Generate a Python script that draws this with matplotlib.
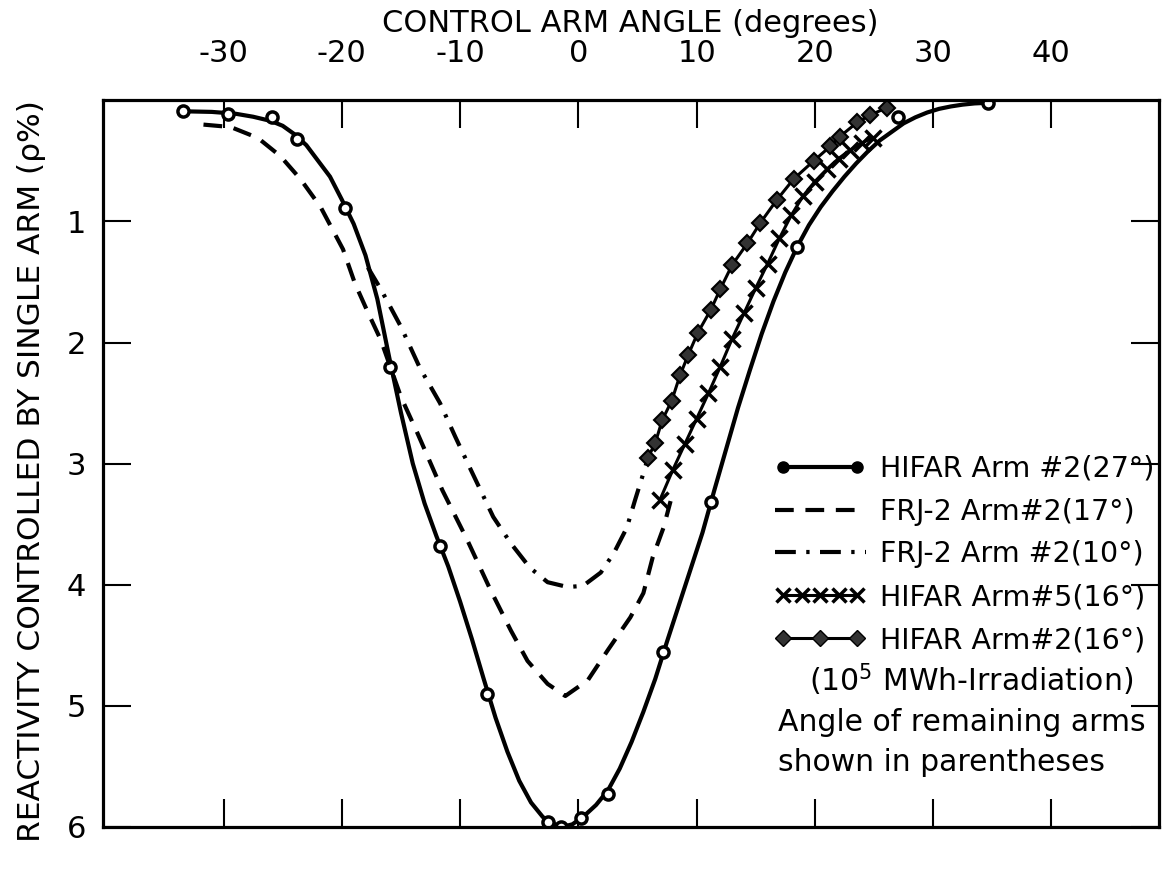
import matplotlib
matplotlib.use("Agg")
import matplotlib.pyplot as plt
from matplotlib.lines import Line2D
from matplotlib.legend_handler import HandlerLine2D

plt.rcParams['font.family'] = ['DejaVu Sans']

# HIFAR Arm #2 (27 deg) - solid curve and measured points
hifar27_x = [-33.4, -31.0, -29.0, -27.5, -26.0, -25.0, -24.0, -23.0, -22.0, -21.0, -20.0,
             -19.0, -18.0, -17.0, -16.0, -15.0, -14.0, -13.0, -12.0, -11.0, -10.0, -9.0,
             -8.0, -7.0, -6.0, -5.0, -4.0, -3.0, -2.0, -1.3, -0.5, 0.5, 1.5, 2.5, 3.5,
             4.5, 5.5, 6.5, 7.5, 8.5, 9.5, 10.5, 11.5, 12.5, 13.5, 14.5, 15.5, 16.5,
             17.5, 18.5, 19.5, 20.5, 21.5, 22.5, 23.5, 24.5, 25.5, 26.5, 27.5, 28.5,
             29.5, 30.5, 31.5, 32.5, 33.5, 34.6]
hifar27_y = [0.09, 0.095, 0.11, 0.135, 0.17, 0.21, 0.28, 0.37, 0.50, 0.63, 0.82,
             1.02, 1.28, 1.64, 2.12, 2.58, 3.0, 3.33, 3.60, 3.85, 4.14, 4.45,
             4.78, 5.10, 5.38, 5.62, 5.80, 5.92, 5.98, 6.0, 5.98, 5.91, 5.82, 5.70, 5.52,
             5.30, 5.05, 4.78, 4.47, 4.17, 3.87, 3.57, 3.22, 2.88, 2.54, 2.23, 1.93, 1.66,
             1.42, 1.21, 1.03, 0.88, 0.75, 0.63, 0.52, 0.42, 0.33, 0.26, 0.19, 0.14,
             0.10, 0.07, 0.05, 0.035, 0.025, 0.02]
hifar27_pts_x = [-33.4, -29.6, -25.9, -23.8, -19.7, -15.9, -11.7, -7.7, -2.6, -1.5, 0.2, 2.5,
                 7.2, 11.2, 18.5, 27.0, 34.6]
hifar27_pts_y = [0.09, 0.11, 0.14, 0.32, 0.89, 2.20, 3.68, 4.90, 5.96, 6.0, 5.93, 5.73,
                 4.56, 3.32, 1.21, 0.14, 0.02]

# FRJ-2 Arm #2 (17 deg) - dashed
frj17_x = [-31.7, -29.4, -27.1, -25.2, -23.5, -21.8, -19.9, -18.9, -17.8, -16.7, -15.0, -13.6,
           -11.5, -9.4, -7.4, -5.7, -4.3, -2.6, -1.1, 0.8, 2.5, 4.4, 5.5, 6.3, 7.2, 7.8]
frj17_y = [0.20, 0.22, 0.31, 0.46, 0.65, 0.88, 1.23, 1.51, 1.75, 1.98, 2.45, 2.75,
           3.22, 3.63, 4.05, 4.38, 4.63, 4.82, 4.92, 4.79, 4.54, 4.27, 4.07, 3.77, 3.53, 3.31]

# FRJ-2 Arm #2 (10 deg) - dash-dot
frj10_x = [-17.8, -16.7, -15.0, -13.4, -11.7, -10.4, -9.1, -7.2, -5.7, -4.1, -2.6, -0.9,
           0.4, 1.9, 3.0, 4.1, 4.8, 5.5, 5.9]
frj10_y = [1.38, 1.56, 1.87, 2.21, 2.50, 2.78, 3.05, 3.44, 3.66, 3.86, 3.98, 4.02,
           4.01, 3.90, 3.74, 3.53, 3.30, 3.08, 2.95]

# HIFAR Arm #5 (16 deg) - crosses
hifar5_x = [6.9, 8.0, 9.0, 10.0, 11.0, 12.0, 13.0, 14.0, 15.0, 16.0, 17.0, 18.0, 19.0,
            20.0, 21.0, 22.0, 23.0, 24.0, 24.9]
hifar5_y = [3.30, 3.05, 2.84, 2.63, 2.42, 2.20, 1.97, 1.76, 1.55, 1.35, 1.14, 0.95, 0.79,
            0.67, 0.57, 0.48, 0.41, 0.35, 0.31]

# HIFAR Arm #2 (16 deg), 10^5 MWh irradiation - diamonds
hifar16_x = [5.9, 6.5, 7.1, 7.9, 8.6, 9.3, 10.1, 11.2, 12.0, 13.0, 14.3, 15.4, 16.8, 18.2,
             19.9, 21.3, 22.1, 23.6, 24.7, 26.1]
hifar16_y = [2.95, 2.83, 2.64, 2.48, 2.27, 2.10, 1.92, 1.73, 1.56, 1.36, 1.18, 1.01, 0.82, 0.65,
             0.50, 0.38, 0.30, 0.18, 0.12, 0.06]

x_ticks = [-30, -20, -10, 0, 10, 20, 30, 40]
x_ticklabels = ['-30', '-20', '-10', '0', '10', '20', '30', '40']
y_ticks = [1, 2, 3, 4, 5, 6]

fig = plt.figure(figsize=(11.74, 8.73), dpi=100)
ax = fig.add_axes([0.0877, 0.053, 0.8995, 0.832])

lw = 3.0
dash = (0, (4.5, 2.8))
dashdot = (0, (5, 2.5, 0.8, 2.5))
ax.plot(hifar27_x, hifar27_y, color='black', lw=lw, solid_capstyle='round')
ax.plot(hifar27_pts_x, hifar27_pts_y, ls='none', marker='o', ms=8, mfc='white',
        mec='black', mew=2.5)
ax.plot(frj17_x, frj17_y, color='black', lw=lw, ls=dash)
ax.plot(frj10_x, frj10_y, color='black', lw=lw, ls=dashdot)
ax.plot(hifar5_x, hifar5_y, color='black', lw=2.2, marker='x', ms=11, mew=2.5)
ax.plot(hifar16_x, hifar16_y, color='black', lw=2.2, marker='D', ms=8, mfc='0.2',
        mec='black', mew=1.5)

ax.set_xlim(-40.2, 49.1)
ax.set_ylim(6, 0)

ax.set_xticks(x_ticks)
ax.set_xticklabels(x_ticklabels)
ax.set_yticks(y_ticks)
ax.tick_params(axis='x', direction='in', length=20, width=1.5, top=True, bottom=True,
               labeltop=True, labelbottom=False, labelsize=22, pad=23)
ax.tick_params(axis='y', direction='in', length=20, width=1.5, left=True, right=True,
               labelleft=True, labelright=False, labelsize=22, pad=12)
for s in ax.spines.values():
    s.set_linewidth(2.3)

fig.text(0.537, 0.973, 'CONTROL ARM ANGLE (degrees)', ha='center', va='center', fontsize=22)
fig.text(0.027, 0.46, 'REACTIVITY CONTROLLED BY SINGLE ARM (\u03c1%)', ha='center',
         va='center', rotation=90, fontsize=22.5)

h1 = Line2D([], [], color='black', lw=lw, marker='o', ms=8, mfc='black', mec='black')
h2 = Line2D([], [], color='black', lw=lw, ls=dash)
h3 = Line2D([], [], color='black', lw=lw, ls=dashdot)
h4 = Line2D([], [], color='black', lw=2.2, marker='x', ms=10, mew=2.5)
h5 = Line2D([], [], color='black', lw=2.2, marker='D', ms=8, mfc='0.2', mec='black')
labels = ['HIFAR Arm #2(27\u00b0)', 'FRJ-2 Arm#2(17\u00b0)', 'FRJ-2 Arm #2(10\u00b0)',
          'HIFAR Arm#5(16\u00b0)', 'HIFAR Arm#2(16\u00b0)']
ax.legend([h1, h2, h3, h4, h5], labels, loc='upper left', bbox_to_anchor=(0.636, 0.512),
          frameon=False, fontsize=20.5, handlelength=3.2, handletextpad=0.5,
          borderpad=0, borderaxespad=0, labelspacing=0.52,
          handler_map={h1: HandlerLine2D(numpoints=2), h4: HandlerLine2D(numpoints=5),
                       h5: HandlerLine2D(numpoints=3)})

ax.text(0.669, 0.202, '(10$^5$ MWh-Irradiation)', transform=ax.transAxes,
        fontsize=21.5, va='center', ha='left')
ax.text(0.639, 0.144, 'Angle of remaining arms', transform=ax.transAxes,
        fontsize=21.5, va='center', ha='left')
ax.text(0.639, 0.089, 'shown in parentheses', transform=ax.transAxes,
        fontsize=21.5, va='center', ha='left')

fig.savefig('out.png', dpi=100, facecolor='white')
